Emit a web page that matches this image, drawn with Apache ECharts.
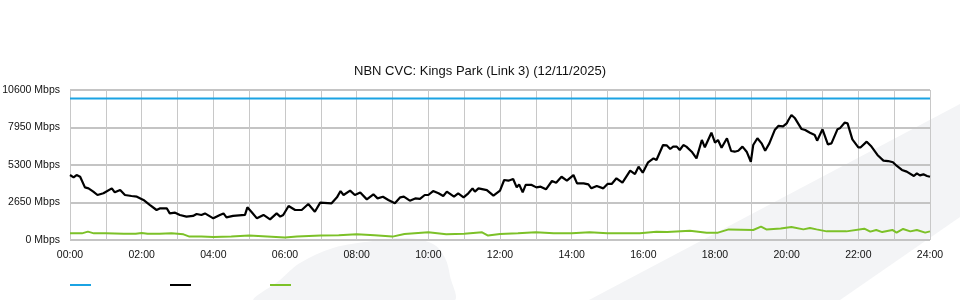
<!DOCTYPE html>
<html>
<head>
<meta charset="utf-8">
<script src="https://cdn.jsdelivr.net/npm/echarts@6/dist/echarts.min.js"></script>
<style>
html,body{margin:0;padding:0;background:#fff;}
#chart{width:960px;height:300px;}
</style>
</head>
<body>
<div id="chart"></div>
<script>
// ---- DATA ----
var titleText = 'NBN CVC: Kings Park (Link 3) (12/11/2025)';
var yTicks = [0, 2650, 5300, 7950, 10600];
var seriesNames = ['Capacity', 'Download', 'Upload'];
var seriesColors = ['#1ba3e3', '#000000', '#7cc128'];

// capacity (minutes since midnight, Mbps)
var capacityTimes = [0, 1440];
var capacityValues = [10000, 10000];

// download (black)
var downTimes = [0,6,11,17,25,31,39,46,56,70,75,84,92,103,112,123,134,145,151,162,167,176,184,195,206,212,220,226,240,251,257,262,273,293,297,304,313,324,335,346,352,357,366,377,388,399,410,419,438,447,453,458,469,477,486,497,508,515,524,533,544,553,559,569,578,586,594,600,608,617,625,631,643,650,659,667,674,678,684,698,709,720,727,734,742,748,752,758,763,773,781,788,797,807,814,823,832,843,849,860,868,873,882,893,900,907,915,925,938,946,952,959,968,977,982,993,999,1005,1010,1016,1021,1027,1032,1041,1049,1058,1063,1074,1080,1085,1091,1100,1107,1113,1119,1126,1133,1140,1144,1151,1158,1164,1171,1180,1186,1194,1200,1203,1208,1214,1225,1231,1239,1247,1251,1260,1269,1275,1285,1289,1297,1302,1310,1320,1324,1334,1342,1352,1362,1370,1378,1384,1393,1401,1413,1418,1423,1429,1435,1440];
var downValues = [4590,4430,4590,4470,3720,3650,3420,3180,3300,3650,3370,3530,3180,3110,3060,2830,2470,2120,2240,2240,1880,1930,1770,1650,1700,1840,1770,1880,1530,1770,1880,1600,1700,1770,2310,1980,1530,1770,1460,1880,1650,1770,2400,2120,2120,2540,2000,2640,2590,3015,3460,3180,3490,3180,3350,2870,3230,2940,3060,2830,2590,3015,3060,2780,2940,2900,3180,3180,3460,3300,3110,3420,3060,3300,3015,3300,3650,3420,3650,3530,3130,3490,4240,4190,4310,3720,3930,3370,3890,3890,3720,3770,3580,4170,4050,4470,4190,4590,4000,4000,3930,3650,3820,3650,3960,3960,4360,4050,4900,4660,5180,4760,5490,5770,5650,6710,6690,6430,6600,6600,6360,6710,6600,6240,5770,7070,6550,7580,6880,7070,6520,7190,6290,6240,6310,6600,6240,5530,6710,7190,6830,6310,6830,7770,8060,8030,8240,8480,8830,8600,7840,7770,7580,7420,7020,7820,6760,6830,7820,7890,8290,8240,7110,6550,6550,6950,6600,6010,5610,5580,5490,5250,4950,4830,4520,4710,4570,4640,4520,4470];

// upload (green)
var upTimes = [0,20,30,40,60,90,110,120,130,150,170,190,200,220,240,270,300,330,360,380,420,450,480,510,540,560,600,630,660,690,700,720,750,780,810,840,870,900,930,954,982,1000,1038,1066,1085,1103,1144,1157,1166,1190,1208,1228,1239,1250,1267,1300,1330,1340,1350,1360,1377,1384,1395,1407,1418,1432,1440];
var upValues = [470,470,590,470,470,440,440,500,440,440,470,400,240,240,210,240,310,240,170,240,310,330,400,330,240,420,540,400,450,540,310,430,470,540,470,470,540,470,470,470,590,560,660,520,520,750,710,940,750,820,920,750,850,750,610,610,800,590,710,560,710,520,780,610,710,520,610];

function pairs(t, v) { return t.map(function (x, i) { return [x, v[i]]; }); }
function hhmm(m) { var h = Math.round(m / 60); return (h < 10 ? '0' : '') + h + ':00'; }

var FONT = '"Liberation Sans", Arial, Helvetica, sans-serif';
var chart = echarts.init(document.getElementById('chart'), null, {renderer: 'canvas'});
chart.setOption({
  animation: false,
  backgroundColor: '#ffffff',
  graphic: [
    {type: 'polygon', z: -10, silent: true,
     shape: {points: [[589,300],[960,104],[960,217],[840,300]]},
     style: {fill: '#f3f4f6'}},
    {type: 'polygon', z: -10, silent: true,
     shape: {smooth: 0.35, points: [[255,301],[280,280],[300,263],[333,248],[373,241],[407,238],[433,244],[445,258],[450,276],[453,301]]},
     style: {fill: '#f3f4f6'}}
  ],
  title: {
    text: titleText, left: 'center', top: 60,
    textStyle: {fontFamily: FONT, fontSize: 13, fontWeight: 'normal', color: '#111'}
  },
  legend: {
    left: 70, top: 284, padding: 0, icon: 'rect', itemWidth: 21, itemHeight: 2, itemGap: 79,
    formatter: function () { return ''; },
    data: seriesNames, textStyle: {fontSize: 8}
  },
  grid: {left: 70, right: 30, top: 90, height: 150, containLabel: false, outerBoundsMode: 'none'},
  xAxis: {
    type: 'value', min: 0, max: 1440, interval: 60,
    axisLine: {show: false}, axisTick: {show: false},
    axisLabel: {fontFamily: FONT, fontSize: 10.5, color: '#111', margin: 10,
      formatter: function (v) { return v % 120 === 0 ? hhmm(v) : ''; }},
    splitLine: {show: true, lineStyle: {color: '#c8c8c8', width: 1}}
  },
  yAxis: {
    type: 'value', min: yTicks[0], max: yTicks[yTicks.length - 1], interval: yTicks[1] - yTicks[0],
    axisLine: {show: false}, axisTick: {show: false},
    axisLabel: {fontFamily: FONT, fontSize: 10.5, color: '#111', margin: 10, padding: [0, 0, 4, 0],
      formatter: function (v) { return String(v) + ' Mbps'; }},
    splitLine: {show: true, lineStyle: {color: '#c4c4c4', width: 2}}
  },
  series: [
    {name: seriesNames[0], type: 'line', data: pairs(capacityTimes, capacityValues), showSymbol: false,
     lineStyle: {color: seriesColors[0], width: 2}, itemStyle: {color: seriesColors[0]}},
    {name: seriesNames[1], type: 'line', data: pairs(downTimes, downValues), showSymbol: false,
     lineStyle: {color: seriesColors[1], width: 2.2}, itemStyle: {color: seriesColors[1]}},
    {name: seriesNames[2], type: 'line', data: pairs(upTimes, upValues), showSymbol: false,
     lineStyle: {color: seriesColors[2], width: 2}, itemStyle: {color: seriesColors[2]}}
  ]
});
</script>
</body>
</html>
